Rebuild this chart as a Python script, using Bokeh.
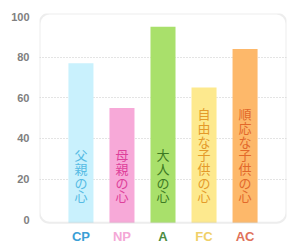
from bokeh.plotting import figure
from bokeh.models import (ColumnDataSource, FactorRange, Range1d, FixedTicker,
                          BoxAnnotation)
from bokeh.core.properties import value
from bokeh.embed import file_html
from bokeh.resources import INLINE

categories = ["CP", "NP", "A", "FC", "AC"]
scores = [77, 55, 95, 65, 84]
bar_texts = ["父\n親\nの\n心", "母\n親\nの\n心", "大\n人\nの\n心",
             "自\n由\nな\n子\n供\nの\n心", "順\n応\nな\n子\n供\nの\n心"]
bar_colors = ["#c9f1fd", "#f7a9d8", "#a9e06b", "#fde98e", "#fdb86a"]
text_colors = ["#56bbe4", "#de3f9a", "#3d7a24", "#e49a2a", "#e2682a"]
label_colors = ["#3a9fd6", "#f4a8d6", "#4b8c40", "#f0d068", "#e0725a"]
y_ticks = [0, 20, 40, 60, 80, 100]
grid_ticks = [20, 40, 60, 80]

y_min = -1.5        # bottom of the rounded plot box
y_lo = -15.7        # bottom of the drawing area (room for the category labels)
text_base = 7
label_y = -8.4

n = len(categories)
src = ColumnDataSource(dict(cat=categories, val=scores, txt=bar_texts,
                            bc=bar_colors, tc=text_colors, lc=label_colors,
                            base=[y_min] * n, ty=[text_base] * n, ly=[label_y] * n))

x_range = FactorRange(*categories, range_padding=0.51, range_padding_units="absolute")
p = figure(x_range=x_range, y_range=Range1d(y_lo, 101.5), width=298, height=251,
           output_backend="svg", toolbar_location=None,
           min_border_left=39, min_border_right=12, min_border_top=13, min_border_bottom=0)

p.background_fill_color = "white"
p.border_fill_color = "white"
p.outline_line_color = None

p.vbar(x="cat", top="val", bottom="base", width=0.61, fill_color="bc",
       line_color=None, source=src)
p.text(x="cat", y="ty", text="txt", text_color="tc", text_align="center",
       text_baseline="bottom", text_font=value("Noto Sans CJK JP"),
       text_font_size="13px", text_line_height=0.72, source=src)

# category labels, each in its own colour
p.text(x="cat", y="ly", text="cat", text_color="lc", text_align="center",
       text_baseline="middle", text_font=value("Liberation Sans"),
       text_font_style="bold", text_font_size="13px", source=src)

p.add_layout(BoxAnnotation(bottom=y_min, fill_alpha=0, line_color="#c2c2c2",
                           line_width=2, border_radius=10))

p.xaxis.visible = False
p.xgrid.visible = False
p.ygrid.ticker = FixedTicker(ticks=grid_ticks)
p.ygrid.grid_line_color = "#c8c8c8"
p.ygrid.grid_line_dash = "1 2"
p.ygrid.grid_line_width = 1

ax = p.yaxis[0]
ax.ticker = FixedTicker(ticks=y_ticks)
ax.axis_line_color = None
ax.major_tick_line_color = None
ax.minor_tick_line_color = None
ax.major_label_text_color = "#808080"
ax.major_label_text_font = "Liberation Sans"
ax.major_label_text_font_style = "bold"
ax.major_label_text_font_size = "11px"
ax.major_label_standoff = 4

open("out.html", "w").write(file_html(p, INLINE))
